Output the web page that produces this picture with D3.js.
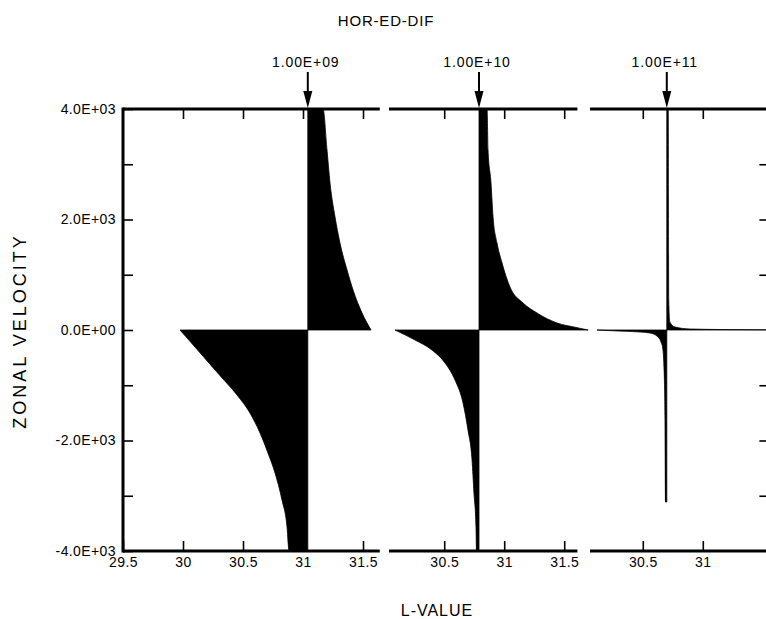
<!DOCTYPE html>
<html>
<head>
<meta charset="utf-8">
<script src="https://cdn.jsdelivr.net/npm/d3@7"></script>
<style>
  body { margin: 0; background: #fff; }
  text { font-family: "Liberation Sans", Arial, Helvetica, sans-serif; fill: #000; }
</style>
</head>
<body>
<svg id="visualisation" width="766" height="619"></svg>
<script>
// diffusion coefficient for each panel (arrow labels)
var diffLabels = ["1.00E+09", "1.00E+10", "1.00E+11"];
// L value where the velocity flips sign (arrow position)
var flipL = [31.04, 30.79, 30.70];
// L-value range shown in each panel
var panelDomains = [[29.5, 31.64], [30.04, 31.61], [30.06, 31.53]];
// labelled x ticks per panel
var xTickValues = [[29.5, 30, 30.5, 31, 31.5], [30.5, 31, 31.5], [30.5, 31]];
var yTickValues = [4000, 3000, 2000, 1000, 0, -1000, -2000, -3000, -4000];
var yRightTicks = [3000, 2000, 1000, -1000, -2000, -3000];

// zonal velocity, [L, v]
var negative1 = [[29.975, 0], [30.167, -474], [30.308, -825], [30.45, -1176], [30.558, -1502],
  [30.642, -1864], [30.708, -2226], [30.767, -2588], [30.825, -3077], [30.867, -3566],
  [30.883, -3982], [31.04, -4000]];
var positive1 = [[31.04, 4000], [31.167, 4000], [31.2, 3258], [31.225, 2661], [31.267, 2045],
  [31.308, 1575], [31.367, 1086], [31.417, 724], [31.492, 308], [31.567, 0]];
var negative2 = [[30.09, 0], [30.257, -181], [30.398, -362], [30.507, -597], [30.59, -905],
  [30.657, -1321], [30.698, -1810], [30.732, -2353], [30.748, -2950], [30.765, -3566],
  [30.769, -3982], [30.79, -4000]];
var positive2 = [[30.79, 4000], [30.857, 4000], [30.865, 3258], [30.89, 2661], [30.907, 2045],
  [30.94, 1575], [30.982, 1213], [31.048, 778], [31.157, 489], [31.273, 308],
  [31.44, 127], [31.59, 50], [31.70, 0]];
var negative3 = [[30.118, 0], [30.31, -20], [30.477, -36], [30.56, -54], [30.618, -109],
  [30.652, -217], [30.668, -362], [30.68, -905], [30.685, -1629], [30.689, -3113],
  [30.70, -3113]];
var positive3 = [[30.70, 4000], [30.712, 4000], [30.716, 543], [30.725, 145], [30.768, 54],
  [30.893, 18], [31.143, 9], [31.53, 4]];

var negatives = [negative1, negative2, negative3];
var positives = [positive1, positive2, positive3];

var vis = d3.select("#visualisation");
var TOP = 109, BOTTOM = 551, PX_PER_L = 120;
var panelLeft = [123, 389, 590];

var yScale = d3.scaleLinear().domain([-4000, 4000]).range([BOTTOM, TOP]);

function fmtE(v) {
  if (v === 0) return "0.0E+00";
  return (v < 0 ? "-" : "") + (Math.abs(v) / 1000).toFixed(1) + "E+03";
}

// title and axis names
vis.append("text").attr("x", 386).attr("y", 26).attr("text-anchor", "middle")
   .style("font-size", "15px").style("letter-spacing", "0.8px").text("HOR-ED-DIF");
vis.append("text").attr("x", 437).attr("y", 616).attr("text-anchor", "middle")
   .style("font-size", "16px").style("letter-spacing", "1px").text("L-VALUE");
vis.append("text").attr("transform", "translate(26,331) rotate(-90)").attr("text-anchor", "middle")
   .style("font-size", "18px").style("letter-spacing", "3px").text("ZONAL VELOCITY");

// left axis of first panel
var yAxis = d3.axisLeft(yScale).tickValues(yTickValues).tickSize(-10).tickPadding(7)
   .tickFormat(function(d) { return d % 2000 === 0 ? fmtE(d) : ""; });
var gy = vis.append("g").attr("transform", "translate(" + panelLeft[0] + ",0)").call(yAxis);
gy.select(".domain").remove();
gy.selectAll(".tick line").attr("stroke", "#000").attr("stroke-width", 1.6);
gy.selectAll("text").style("font-size", "14px").style("letter-spacing", "0.4px");
vis.append("line").attr("x1", panelLeft[0]).attr("x2", panelLeft[0])
   .attr("y1", TOP - 1.5).attr("y2", BOTTOM + 1.5).attr("stroke", "#000").attr("stroke-width", 3);

var ndx;
for (ndx = 0; ndx < 3; ndx++) {
  var dom = panelDomains[ndx];
  var x0 = panelLeft[ndx];
  var xScale = d3.scaleLinear().domain(dom).range([x0, x0 + (dom[1] - dom[0]) * PX_PER_L]);

  var area = d3.area()
     .x(function(d) { return xScale(d[0]); })
     .y0(yScale(0))
     .y1(function(d) { return yScale(d[1]); })
     .curve(d3.curveMonotoneX);

  [negatives[ndx], positives[ndx]].forEach(function(s) {
    vis.append("path")
       .attr("d", area(s))
       .attr("fill", "#000")
       .attr("stroke", "#000")
       .attr("stroke-width", 0.8);
  });

  // bottom axis with labels
  var xAxis = d3.axisBottom(xScale).tickValues(xTickValues[ndx]).tickSize(-10).tickPadding(6)
     .tickFormat(d3.format("~g"));
  var gx = vis.append("g").attr("transform", "translate(0," + BOTTOM + ")").call(xAxis);
  gx.select(".domain").remove();
  gx.selectAll(".tick line").attr("stroke", "#000").attr("stroke-width", 1.6);
  gx.selectAll("text").style("font-size", "14px").style("letter-spacing", "0.4px");

  // top axis, ticks only
  var topAxis = d3.axisTop(xScale).tickValues(xTickValues[ndx].filter(function(d) { return d > dom[0]; }))
     .tickSize(-10).tickFormat("");
  var gt = vis.append("g").attr("transform", "translate(0," + TOP + ")").call(topAxis);
  gt.select(".domain").remove();
  gt.selectAll(".tick line").attr("stroke", "#000").attr("stroke-width", 1.6);

  [TOP, BOTTOM].forEach(function(yy) {
    vis.append("line").attr("x1", xScale(dom[0])).attr("x2", xScale(dom[1]))
       .attr("y1", yy).attr("y2", yy).attr("stroke", "#000").attr("stroke-width", 3);
  });

  // arrow marking the flip point
  var ax = xScale(flipL[ndx]);
  vis.append("text").attr("x", ax - 2).attr("y", 67).attr("text-anchor", "middle")
     .style("font-size", "14px").style("letter-spacing", "0.9px").text(diffLabels[ndx]);
  vis.append("line").attr("x1", ax).attr("x2", ax).attr("y1", 72).attr("y2", 96)
     .attr("stroke", "#000").attr("stroke-width", 2);
  vis.append("path")
     .attr("d", "M" + (ax - 4.5) + "," + 91 + "L" + (ax + 4.5) + "," + 91 + "L" + ax + "," + (TOP - 1) + "Z")
     .attr("fill", "#000");

  // inward ticks on the right edge of the last panel
  if (ndx === 2) {
    var yRight = d3.axisRight(yScale).tickValues(yRightTicks).tickSize(-7).tickFormat("");
    var gr = vis.append("g").attr("transform", "translate(" + xScale(dom[1]) + ",0)").call(yRight);
    gr.select(".domain").remove();
    gr.selectAll(".tick line").attr("stroke", "#000").attr("stroke-width", 1.6);
  }
}
</script>
</body>
</html>
